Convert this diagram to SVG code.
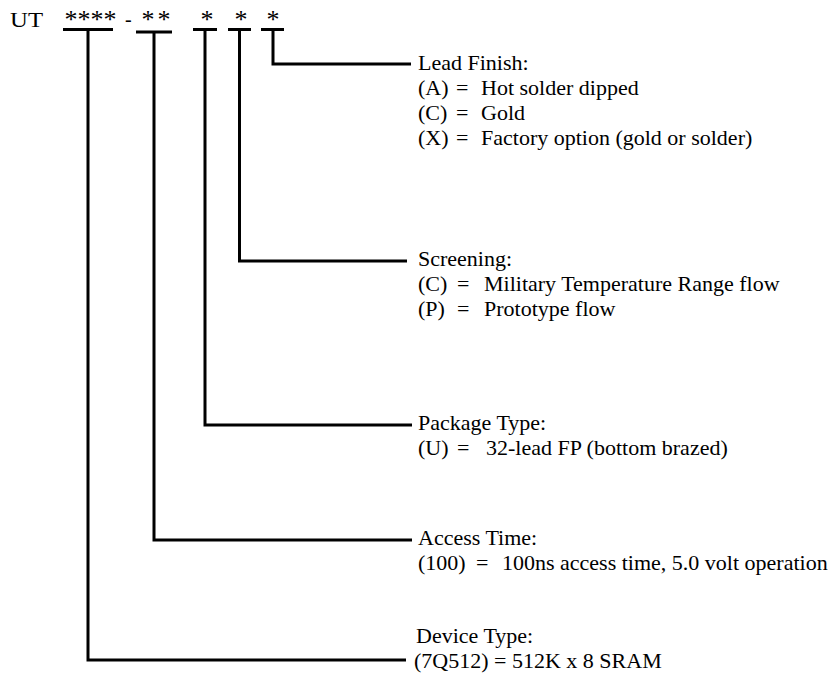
<svg xmlns="http://www.w3.org/2000/svg" width="838" height="677" viewBox="0 0 838 677">
<style>
text{font-family:"Liberation Serif","Times New Roman",serif;font-size:22px;fill:#000}
.ast{text-anchor:middle;font-size:26px}
.ln{stroke:#000;stroke-width:3;fill:none}
</style>
<rect width="838" height="677" fill="#fff"/>
<g id="part-number">
<text x="10" y="27" textLength="33" lengthAdjust="spacingAndGlyphs">UT</text>
<text class="ast" x="71" y="28">*</text>
<text class="ast" x="84" y="28">*</text>
<text class="ast" x="97" y="28">*</text>
<text class="ast" x="110" y="28">*</text>
<text x="125" y="26" style="font-size:20px">-</text>
<text class="ast" x="148" y="28">*</text>
<text class="ast" x="164" y="28">*</text>
<text class="ast" x="207" y="28">*</text>
<text class="ast" x="241" y="28">*</text>
<text class="ast" x="273" y="28">*</text>
</g>
<g id="connectors" class="ln">
<path d="M63 29.5H113M88 29.5V660H406"/>
<path d="M136 32H172M154 32V540H412"/>
<path d="M193 29.5H217M205 29.5V425H412"/>
<path d="M228 29.5H251M239.5 29.5V261H407"/>
<path d="M261 29.5H284M273 29.5V64H411"/>
</g>
<g id="lead-finish">
<text x="418" y="70">Lead Finish:</text>
<text x="418" y="95">(A)</text><text x="456" y="95">=</text><text x="481" y="95">Hot solder dipped</text>
<text x="418" y="120">(C)</text><text x="456" y="120">=</text><text x="481" y="120">Gold</text>
<text x="418" y="145">(X)</text><text x="456" y="145">=</text><text x="481" y="145">Factory option (gold or solder)</text>
</g>
<g id="screening">
<text x="418" y="266">Screening:</text>
<text x="418" y="291">(C)</text><text x="457" y="291">=</text><text x="484" y="291">Military Temperature Range flow</text>
<text x="418" y="316">(P)</text><text x="457" y="316">=</text><text x="484" y="316">Prototype flow</text>
</g>
<g id="package-type">
<text x="418" y="430">Package Type:</text>
<text x="418" y="455">(U)</text><text x="457" y="455">=</text><text x="486" y="455">32-lead FP (bottom brazed)</text>
</g>
<g id="access-time">
<text x="418" y="545">Access Time:</text>
<text x="418" y="570">(100)</text><text x="476" y="570">=</text><text x="502" y="570">100ns access time, 5.0 volt operation</text>
</g>
<g id="device-type">
<text x="416" y="643">Device Type:</text>
<text x="414" y="668">(7Q512) = 512K x 8 SRAM</text>
</g>
</svg>
